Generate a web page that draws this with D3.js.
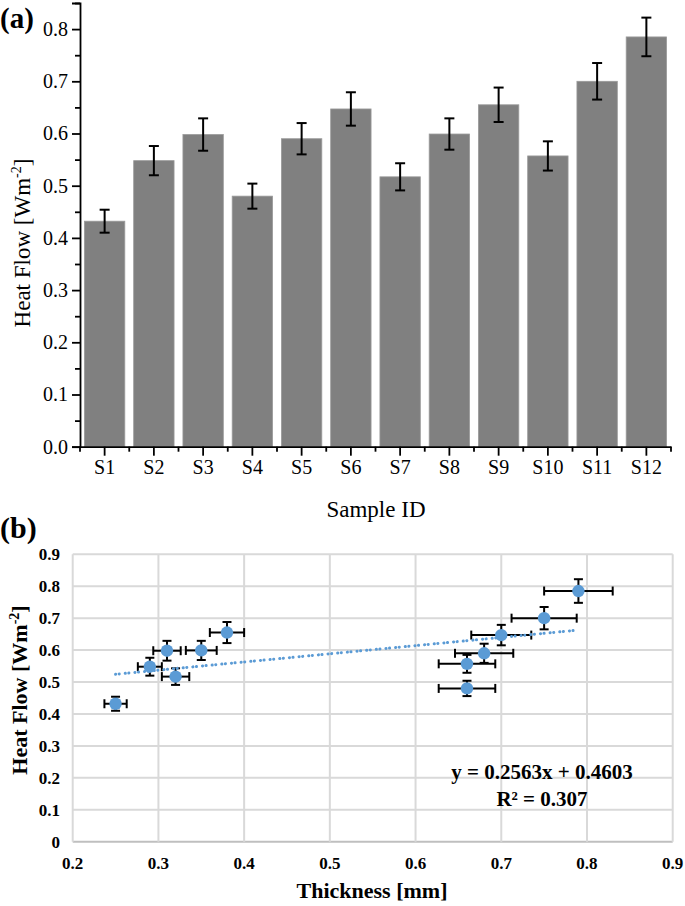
<!DOCTYPE html>
<html>
<head>
<meta charset="utf-8">
<script src="https://cdn.jsdelivr.net/npm/d3@7"></script>
<style>
  body { margin: 0; background: #fff; }
  svg text { font-family: "Liberation Serif", "Times New Roman", serif; fill: #000; }
</style>
</head>
<body>
<div id="chart"></div>
<script>
// sample data
var samples = ["S1", "S2", "S3", "S4", "S5", "S6", "S7", "S8", "S9", "S10", "S11", "S12"];
var heatFlow = [0.432, 0.548, 0.598, 0.480, 0.590, 0.647, 0.517, 0.599, 0.655, 0.557, 0.700, 0.785];
var heatErr = [0.022, 0.028, 0.031, 0.024, 0.030, 0.032, 0.026, 0.030, 0.033, 0.028, 0.035, 0.037];
var thickness = [0.25, 0.29, 0.31, 0.66, 0.68, 0.70, 0.32, 0.35, 0.38, 0.66, 0.75, 0.79];
var thickErr = [0.013, 0.014, 0.016, 0.033, 0.034, 0.035, 0.016, 0.018, 0.020, 0.033, 0.038, 0.040];
var trendSlope = 0.2563, trendIntercept = 0.4603;
var trendRange = [0.25, 0.79];
var equationLines = ["y = 0.2563x + 0.4603", "R\u00b2 = 0.307"];

var data = samples.map(function (s, i) {
    return { id: s, hf: heatFlow[i], err: heatErr[i], t: thickness[i], terr: thickErr[i] };
});

var svg = d3.select("#chart").append("svg")
    .attr("width", 685)
    .attr("height", 906);

// ---------- panel (a) : bar chart ----------
var xa = d3.scaleBand().domain(samples).range([80, 671]).paddingInner(0.18).paddingOuter(0.09);
var ya = d3.scaleLinear().domain([0, 0.85]).range([446.7, 3]);

var ga = svg.append("g");

ga.selectAll(".bar")
    .data(data)
    .enter().append("rect")
    .attr("class", "bar")
    .attr("x", function (d) { return xa(d.id); })
    .attr("width", xa.bandwidth())
    .attr("y", function (d) { return ya(d.hf); })
    .attr("height", function (d) { return ya(0) - ya(d.hf); })
    .style("fill", "#808080")
    .style("stroke", "#9a9a9a")
    .style("stroke-width", 0.8);

// error bars
var eb = ga.selectAll(".err").data(data).enter().append("g").attr("class", "err")
    .style("stroke", "#000").style("stroke-width", 2);
eb.append("line")
    .attr("x1", function (d) { return xa(d.id) + xa.bandwidth() / 2; })
    .attr("x2", function (d) { return xa(d.id) + xa.bandwidth() / 2; })
    .attr("y1", function (d) { return ya(d.hf + d.err); })
    .attr("y2", function (d) { return ya(d.hf - d.err); });
[1, -1].forEach(function (s) {
    eb.append("line")
        .attr("x1", function (d) { return xa(d.id) + xa.bandwidth() / 2 - 5; })
        .attr("x2", function (d) { return xa(d.id) + xa.bandwidth() / 2 + 5; })
        .attr("y1", function (d) { return ya(d.hf + s * d.err); })
        .attr("y2", function (d) { return ya(d.hf + s * d.err); });
});

// y axis
var yAxisA = ga.append("g")
    .attr("transform", "translate(80,0)")
    .call(d3.axisLeft(ya).tickValues(d3.range(0, 0.81, 0.1)).tickFormat(d3.format(".1f"))
        .tickSize(8).tickPadding(4));
var yMinorA = ga.append("g")
    .attr("transform", "translate(80,0)")
    .call(d3.axisLeft(ya).tickValues(d3.range(0.05, 0.86, 0.1)).tickFormat("").tickSize(5));
yMinorA.select(".domain").remove();

// x axis
var xAxisA = ga.append("g")
    .attr("transform", "translate(0,446.7)")
    .call(d3.axisBottom(xa).tickSize(9).tickPadding(4).tickSizeOuter(0));
ga.append("g")
    .attr("transform", "translate(0,446.7)")
    .selectAll("line")
    .data(d3.range(13))
    .enter().append("line")
    .attr("x1", function (i) { return 80 + i * xa.step(); })
    .attr("x2", function (i) { return 80 + i * xa.step(); })
    .attr("y1", 0).attr("y2", 5)
    .style("stroke", "#000").style("stroke-width", 1.8);

[yAxisA, yMinorA, xAxisA].forEach(function (ax) {
    ax.selectAll("text").style("font-size", "20px")
        .style("font-family", "'Liberation Serif', serif");
    ax.selectAll("line").style("stroke-width", 1.8);
    ax.select(".domain").style("stroke-width", 1.8);
});

ga.append("text")
    .attr("x", 376).attr("y", 517)
    .attr("text-anchor", "middle")
    .style("font-size", "23px")
    .text("Sample ID");

var ylabA = ga.append("text")
    .attr("transform", "translate(30,243) rotate(-90)")
    .attr("text-anchor", "middle")
    .style("font-size", "23px");
ylabA.append("tspan").text("Heat Flow [Wm");
ylabA.append("tspan").attr("dy", -9).style("font-size", "14px").text("-2");
ylabA.append("tspan").attr("dy", 9).text("]");

ga.append("text")
    .attr("x", 0).attr("y", 28)
    .style("font-size", "29px").style("font-weight", "bold")
    .text("(a)");

// ---------- panel (b) : scatter ----------
var xb = d3.scaleLinear().domain([0.2, 0.9]).range([72.7, 672.7]);
var yb = d3.scaleLinear().domain([0, 0.9]).range([841.7, 554.3]);
var gb = svg.append("g");

// grid
gb.append("g").selectAll("line")
    .data(d3.range(0, 0.91, 0.1))
    .enter().append("line")
    .attr("x1", xb(0.2)).attr("x2", xb(0.9))
    .attr("y1", function (d) { return yb(d); })
    .attr("y2", function (d) { return yb(d); })
    .style("stroke", function (d, i) { return i === 0 ? "#bfbfbf" : "#d9d9d9"; })
    .style("stroke-width", 2);
gb.append("g").selectAll("line")
    .data(d3.range(0.2, 0.91, 0.1))
    .enter().append("line")
    .attr("x1", function (d) { return xb(d); })
    .attr("x2", function (d) { return xb(d); })
    .attr("y1", yb(0)).attr("y2", yb(0.9))
    .style("stroke", "#d9d9d9")
    .style("stroke-width", 2);

// tick labels
gb.append("g").selectAll("text")
    .data(d3.range(0, 0.91, 0.1))
    .enter().append("text")
    .attr("x", 60)
    .attr("y", function (d) { return yb(d); })
    .attr("dy", "0.35em")
    .attr("text-anchor", "end")
    .style("font-size", "17px").style("font-weight", "bold")
    .text(function (d, i) { return i === 0 ? "0" : d3.format(".1f")(d); });
gb.append("g").selectAll("text")
    .data(d3.range(0.2, 0.91, 0.1))
    .enter().append("text")
    .attr("x", function (d) { return xb(d); })
    .attr("y", 869)
    .attr("text-anchor", "middle")
    .style("font-size", "17px").style("font-weight", "bold")
    .text(function (d) { return d3.format(".1f")(d); });

// error bars
var ebb = gb.selectAll(".errb").data(data).enter().append("g").attr("class", "errb")
    .style("stroke", "#000").style("stroke-width", 2);
ebb.append("line")
    .attr("x1", function (d) { return xb(d.t); }).attr("x2", function (d) { return xb(d.t); })
    .attr("y1", function (d) { return yb(d.hf + d.err); })
    .attr("y2", function (d) { return yb(d.hf - d.err); });
ebb.append("line")
    .attr("x1", function (d) { return xb(d.t - d.terr); }).attr("x2", function (d) { return xb(d.t + d.terr); })
    .attr("y1", function (d) { return yb(d.hf); })
    .attr("y2", function (d) { return yb(d.hf); });
[1, -1].forEach(function (s) {
    ebb.append("line")
        .attr("x1", function (d) { return xb(d.t) - 4.5; })
        .attr("x2", function (d) { return xb(d.t) + 4.5; })
        .attr("y1", function (d) { return yb(d.hf + s * d.err); })
        .attr("y2", function (d) { return yb(d.hf + s * d.err); });
    ebb.append("line")
        .attr("x1", function (d) { return xb(d.t + s * d.terr); })
        .attr("x2", function (d) { return xb(d.t + s * d.terr); })
        .attr("y1", function (d) { return yb(d.hf) - 4.5; })
        .attr("y2", function (d) { return yb(d.hf) + 4.5; });
});

// trend line (round-dot style)
var trendLine = d3.line()
    .x(function (d) { return xb(d); })
    .y(function (d) { return yb(trendSlope * d + trendIntercept); });
gb.append("path")
    .datum(trendRange)
    .attr("d", trendLine)
    .style("fill", "none")
    .style("stroke", "#5b9bd5")
    .style("stroke-width", 3)
    .style("stroke-linecap", "round")
    .style("stroke-dasharray", "0.1 3.5 0.1 6");

// points
gb.selectAll(".pt")
    .data(data)
    .enter().append("circle")
    .attr("class", "pt")
    .attr("cx", function (d) { return xb(d.t); })
    .attr("cy", function (d) { return yb(d.hf); })
    .attr("r", 6.2)
    .style("fill", "#5b9bd5");

// equation
gb.selectAll(".eq")
    .data(equationLines)
    .enter().append("text")
    .attr("x", 542)
    .attr("y", function (d, i) { return 779 + i * 27; })
    .attr("text-anchor", "middle")
    .style("font-size", "21px").style("font-weight", "bold")
    .text(function (d) { return d; });

gb.append("text")
    .attr("x", 372).attr("y", 898)
    .attr("text-anchor", "middle")
    .style("font-size", "22px").style("font-weight", "bold")
    .text("Thickness [mm]");

var ylabB = gb.append("text")
    .attr("transform", "translate(27,690) rotate(-90)")
    .attr("text-anchor", "middle")
    .style("font-size", "22px").style("font-weight", "bold");
ylabB.append("tspan").text("Heat Flow [Wm");
ylabB.append("tspan").attr("dy", -8).style("font-size", "14px").text("-2");
ylabB.append("tspan").attr("dy", 8).text("]");

gb.append("text")
    .attr("x", 0).attr("y", 538)
    .style("font-size", "30px").style("font-weight", "bold")
    .text("(b)");
</script>
</body>
</html>
